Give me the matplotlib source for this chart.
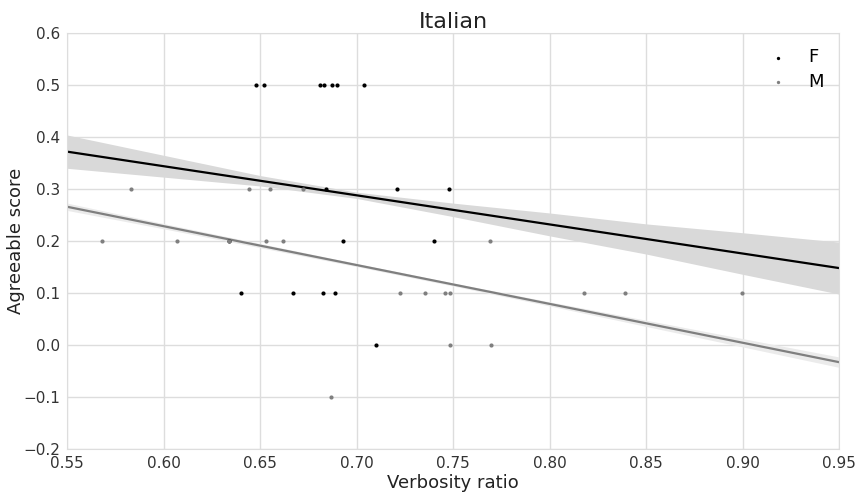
import numpy as np
import matplotlib
matplotlib.use("Agg")
import matplotlib.pyplot as plt

# scatter data
f_x = [0.648, 0.652, 0.681, 0.683, 0.687, 0.690, 0.704,
       0.684, 0.721, 0.748,
       0.634, 0.693, 0.740,
       0.640, 0.667, 0.6826, 0.689,
       0.710]
f_y = [0.5, 0.5, 0.5, 0.5, 0.5, 0.5, 0.5,
       0.3, 0.3, 0.3,
       0.2, 0.2, 0.2,
       0.1, 0.1, 0.1, 0.1,
       0.0]

m_x = [0.583, 0.644, 0.655, 0.672,
       0.568, 0.607, 0.634, 0.653, 0.662, 0.769,
       0.7225, 0.7353, 0.746, 0.7485, 0.8175, 0.8388, 0.8996,
       0.7485, 0.7695,
       0.6868]
m_y = [0.3, 0.3, 0.3, 0.3,
       0.2, 0.2, 0.2, 0.2, 0.2, 0.2,
       0.1, 0.1, 0.1, 0.1, 0.1, 0.1, 0.1,
       0.0, 0.0,
       -0.1]

# regression lines and confidence band half-widths
band_x = [0.55, 0.60, 0.65, 0.70, 0.75, 0.80, 0.85, 0.90, 0.95]
f_line_ends = [0.372, 0.148]
f_half = [0.032, 0.021, 0.010, 0.006, 0.013, 0.022, 0.029, 0.040, 0.050]
m_line_ends = [0.266, -0.033]
m_half = [0.007, 0.005, 0.004, 0.003, 0.003, 0.004, 0.006, 0.008, 0.010]

plt.rcParams["font.family"] = "DejaVu Sans"

fig = plt.figure(figsize=(8.6, 4.94), dpi=100)
ax = fig.add_axes([0.078, 0.091, 0.898, 0.842])

bx = np.array(band_x)
for ends, half, lc, bc in [(f_line_ends, f_half, "black", "#d9d9d9"),
                           (m_line_ends, m_half, "#7f7f7f", "#ebebeb")]:
    fit = np.interp(bx, [band_x[0], band_x[-1]], ends)
    ax.fill_between(bx, fit - np.array(half), fit + np.array(half),
                    color=bc, linewidth=0, zorder=1)
    ax.plot(bx, fit, color=lc, linewidth=1.6, zorder=2)

ax.scatter(f_x, f_y, s=9, color="black", label="F", zorder=3, linewidths=0)
ax.scatter(m_x, m_y, s=9, color="#7f7f7f", label="M", zorder=3, linewidths=0)

ax.set_xlim(0.55, 0.95)
ax.set_ylim(-0.2, 0.6)
ax.set_xticks(np.arange(0.55, 0.951, 0.05))
ax.set_yticks(np.arange(-0.2, 0.61, 0.1))
ax.set_xticklabels([f"{v:.2f}" for v in np.arange(0.55, 0.951, 0.05)])
ax.set_yticklabels([f"{v:.1f}".replace("-", "\u2212") for v in np.arange(-0.2, 0.61, 0.1)])

ax.grid(True, color="#dddddd", linewidth=1)
ax.set_axisbelow(True)
for s in ax.spines.values():
    s.set_color("#dddddd")
ax.tick_params(length=0, labelsize=11, colors="#333333", pad=5)

ax.set_xlabel("Verbosity ratio", fontsize=13, color="#222222", labelpad=2)
ax.set_ylabel("Agreeable score", fontsize=13, color="#222222", labelpad=-1)
ax.set_title("Italian", fontsize=16, color="#222222", pad=4)

ax.legend(loc="upper right", frameon=False, fontsize=13, markerscale=0.8,
          handlelength=1.0, handletextpad=1.2, borderaxespad=0.45,
          labelspacing=0.35)

fig.savefig("out.png", dpi=100)
